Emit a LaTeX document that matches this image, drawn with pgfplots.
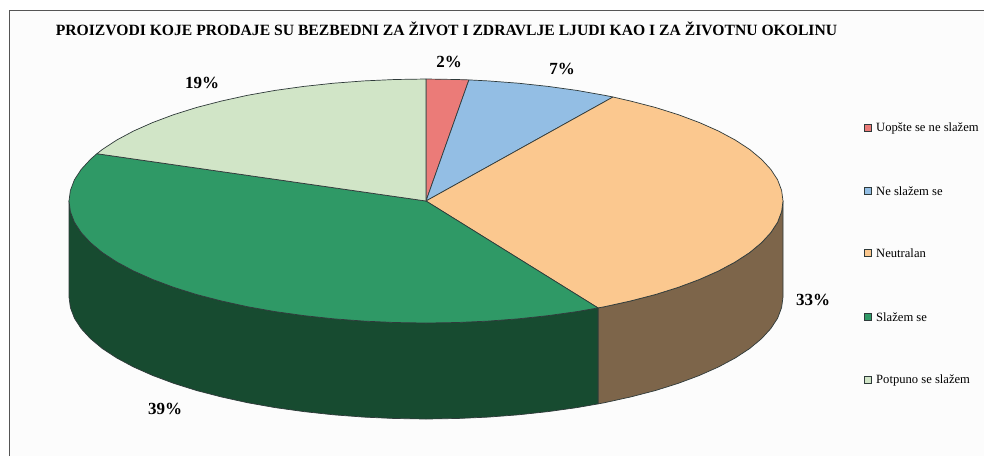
\documentclass[border=0pt]{standalone}
\usepackage{pgfplots}
\pgfplotsset{compat=1.18}
\usepackage{fontspec}
\setmainfont{Liberation Serif}
\definecolor{cred}{HTML}{EB7B78}
\definecolor{cblue}{HTML}{93BEE4}
\definecolor{corange}{HTML}{FBC88F}
\definecolor{cgreen}{HTML}{2F9966}
\definecolor{clight}{HTML}{D1E5C7}
\definecolor{cdark}{HTML}{174B30}
\definecolor{cbrown}{HTML}{7D654A}
\definecolor{cedge}{HTML}{2F3A3A}
\definecolor{cframe}{HTML}{555555}
\definecolor{cpaper}{HTML}{FCFCFC}
\definecolor{ctext}{HTML}{1A1F2A}
\begin{document}
\begin{tikzpicture}
\begin{axis}[
  scale only axis, width=984pt, height=456pt,
  xmin=0, xmax=984, ymin=0, ymax=456, y dir=reverse,
  hide axis,
  every node/.style={text=ctext},
  pie/.style={draw=cedge, line width=0.7pt, line join=round},
]
% page, paper and frame
\addplot[fill=white, draw=none] coordinates {(0,0)(984,0)(984,456)(0,456)} -- cycle;
\addplot[fill=cpaper, draw=none] coordinates {(9.5,10)(984,10)(984,456)(9.5,456)} -- cycle;
\addplot[draw=cframe, line width=1pt] coordinates {(9.5,456)(9.5,10.5)(984,10.5)};
% side walls
\addplot[pie, fill=cbrown] coordinates {(783,201)(781.6,211.6)(777.6,222.2)(770.8,232.6)(761.5,242.7)(749.6,252.6)(735.2,262)(718.4,271)(699.5,279.4)(678.4,287.3)(655.5,294.5)(630.8,300.9)(604.5,306.7)(598,307.9)
(598,403.9)(604.5,402.7)(630.8,396.9)(655.5,390.5)(678.4,383.3)(699.5,375.4)(718.4,367)(735.2,358)(749.6,348.6)(761.5,338.7)(770.8,328.6)(777.6,318.2)(781.6,307.6)(783,297)} -- cycle;
\addplot[pie, fill=cdark] coordinates {(598,307.9)(576.9,311.6)(548.1,315.6)(518.4,318.8)(488,321.1)(457.1,322.5)(426,323)(394.9,322.5)(364,321.1)(333.6,318.8)(303.9,315.6)(275.1,311.6)(247.5,306.7)(221.2,300.9)(196.5,294.5)(173.6,287.3)(152.5,279.4)(133.6,271)(116.8,262)(102.4,252.6)(90.5,242.7)(81.2,232.6)(74.4,222.2)(70.4,211.6)(69,201)
(69,297)(70.4,307.6)(74.4,318.2)(81.2,328.6)(90.5,338.7)(102.4,348.6)(116.8,358)(133.6,367)(152.5,375.4)(173.6,383.3)(196.5,390.5)(221.2,396.9)(247.5,402.7)(275.1,407.6)(303.9,411.6)(333.6,414.8)(364,417.1)(394.9,418.5)(426,419)(457.1,418.5)(488,417.1)(518.4,414.8)(548.1,411.6)(576.9,407.6)(598,403.9)} -- cycle;
% top faces
\addplot[pie, fill=cred] coordinates {(426,201)(426,79)(457.1,79.5)(468.9,79.9)} -- cycle;
\addplot[pie, fill=cblue] coordinates {(426,201)(468.9,79.9)(488,80.9)(518.4,83.2)(548.1,86.4)(576.9,90.4)(604.5,95.3)(613,97)} -- cycle;
\addplot[pie, fill=corange] coordinates {(426,201)(613,97)(630.8,101.1)(655.5,107.5)(678.4,114.7)(699.5,122.6)(718.4,131)(735.2,140)(749.6,149.4)(761.5,159.3)(770.8,169.4)(777.6,179.8)(781.6,190.4)(783,201)(781.6,211.6)(777.6,222.2)(770.8,232.6)(761.5,242.7)(749.6,252.6)(735.2,262)(718.4,271)(699.5,279.4)(678.4,287.3)(655.5,294.5)(630.8,300.9)(604.5,306.7)(598,307.9)} -- cycle;
\addplot[pie, fill=cgreen] coordinates {(426,201)(598,307.9)(576.9,311.6)(548.1,315.6)(518.4,318.8)(488,321.1)(457.1,322.5)(426,323)(394.9,322.5)(364,321.1)(333.6,318.8)(303.9,315.6)(275.1,311.6)(247.5,306.7)(221.2,300.9)(196.5,294.5)(173.6,287.3)(152.5,279.4)(133.6,271)(116.8,262)(102.4,252.6)(90.5,242.7)(81.2,232.6)(74.4,222.2)(70.4,211.6)(69,201)(70.4,190.4)(74.4,179.8)(81.2,169.4)(90.5,159.3)(96.9,153.7)} -- cycle;
\addplot[pie, fill=clight] coordinates {(426,201)(96.9,153.7)(102.4,149.4)(116.8,140)(133.6,131)(152.5,122.6)(173.6,114.7)(196.5,107.5)(221.2,101.1)(247.5,95.3)(275.1,90.4)(303.9,86.4)(333.6,83.2)(364,80.9)(394.9,79.5)(426,79)} -- cycle;
% legend markers
\addplot[only marks, mark=square*, mark size=3.7pt, mark options={fill=cred, draw=cedge, line width=0.6pt}] coordinates {(868,128)};
\addplot[only marks, mark=square*, mark size=3.7pt, mark options={fill=cblue, draw=cedge, line width=0.6pt}] coordinates {(868,191)};
\addplot[only marks, mark=square*, mark size=3.7pt, mark options={fill=corange, draw=cedge, line width=0.6pt}] coordinates {(868,253)};
\addplot[only marks, mark=square*, mark size=3.7pt, mark options={fill=cgreen, draw=cedge, line width=0.6pt}] coordinates {(868,317)};
\addplot[only marks, mark=square*, mark size=3.7pt, mark options={fill=clight, draw=cedge, line width=0.6pt}] coordinates {(868,380)};
% texts
\node[font=\fontsize{15.65}{17}\selectfont\bfseries] at (axis cs:446.5,29) {PROIZVODI KOJE PRODAJE SU BEZBEDNI ZA ŽIVOT I ZDRAVLJE LJUDI KAO I ZA ŽIVOTNU OKOLINU};
\node[font=\fontsize{17}{19}\selectfont\bfseries] at (axis cs:449,62) {2\%};
\node[font=\fontsize{17}{19}\selectfont\bfseries] at (axis cs:562,69) {7\%};
\node[font=\fontsize{17}{19}\selectfont\bfseries] at (axis cs:202,83) {19\%};
\node[font=\fontsize{17}{19}\selectfont\bfseries] at (axis cs:813,300) {33\%};
\node[font=\fontsize{17}{19}\selectfont\bfseries] at (axis cs:165,409) {39\%};
\node[anchor=west, inner sep=0pt, font=\fontsize{12.6}{14}\selectfont] at (axis cs:876,128) {Uopšte se ne slažem};
\node[anchor=west, inner sep=0pt, font=\fontsize{12.6}{14}\selectfont] at (axis cs:876,191) {Ne slažem se};
\node[anchor=west, inner sep=0pt, font=\fontsize{12.6}{14}\selectfont] at (axis cs:876,253) {Neutralan};
\node[anchor=west, inner sep=0pt, font=\fontsize{12.6}{14}\selectfont] at (axis cs:876,317) {Slažem se};
\node[anchor=west, inner sep=0pt, font=\fontsize{12.6}{14}\selectfont] at (axis cs:876,380) {Potpuno se slažem};
\end{axis}
\end{tikzpicture}
\end{document}
